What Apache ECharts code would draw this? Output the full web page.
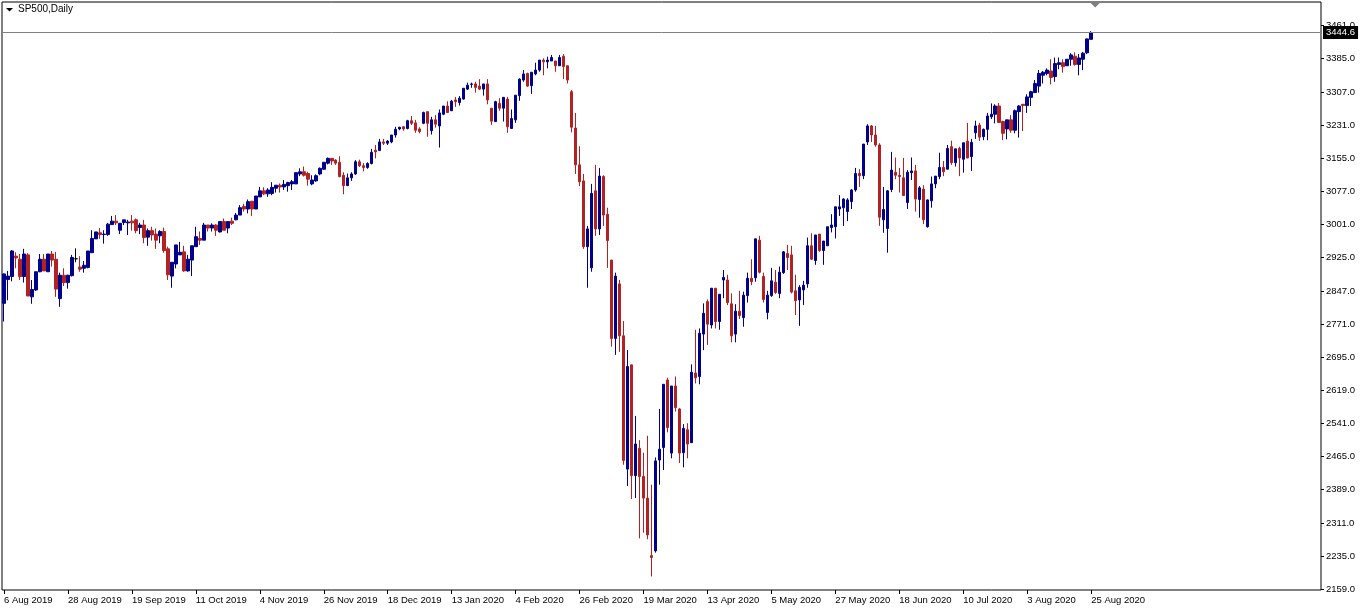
<!DOCTYPE html>
<html>
<head>
<meta charset="utf-8">
<script src="https://cdn.jsdelivr.net/npm/echarts@6/dist/echarts.min.js"></script>
<style>
html,body{margin:0;padding:0;background:#fff;}
#chart{width:1362px;height:611px;}
</style>
</head>
<body>
<div id="chart"></div>
<script>
// ---------------- DATA ----------------
const symbolTitle = 'SP500,Daily';
const lastPrice = 3444.6;
const firstDate = '2019-08-06';
const holidays = ['2019-12-25', '2020-01-01', '2020-04-10'];
const labelEvery = 16;
const emptySlotsAfterData = 57;

const yTickValues = [2159, 2235, 2311, 2389, 2465, 2541, 2619, 2695, 2771, 2847, 2925, 3001, 3077, 3155, 3231, 3307, 3385, 3461];

const open = [
2819,2874,2881,2928,2921,2881,2931,2834,2850,2892,
2921,2892,2933,2921,2830,2884,2867,2883,2922,2903,
2900,2902,2936,2968,2982,2978,2978,3001,3009,2988,
3006,3005,3009,3012,2994,3000,2972,2987,2979,2975,
2985,2945,2882,2910,2931,2938,2894,2919,2950,2969,
2965,3000,2993,3000,2984,3008,2993,3009,3012,3023,
3043,3037,3055,3037,3065,3079,3072,3073,3085,3092,
3088,3091,3095,3095,3118,3123,3119,3095,3102,3118,
3129,3143,3154,3150,3145,3115,3091,3109,3118,3146,
3137,3133,3142,3173,3172,3192,3189,3192,3208,3222,
3227,3223,3241,3236,3222,3235,3262,3218,3243,3229,
3256,3275,3264,3289,3283,3291,3314,3325,3326,3321,
3314,3326,3270,3239,3281,3270,3291,3223,3243,3299,
3335,3350,3322,3349,3358,3381,3377,3379,3379,3368,
3390,3368,3308,3224,3139,3102,2950,2901,3079,2991,
3112,3025,2919,2738,2864,2744,2436,2677,2421,2484,
2419,2369,2236,2247,2457,2486,2642,2473,2628,2575,
2474,2527,2497,2658,2650,2748,2823,2769,2854,2777,
2873,2873,2818,2748,2801,2786,2837,2877,2878,2965,
2881,2798,2837,2868,2842,2890,2934,2931,2848,2827,
2850,2864,2952,2918,2979,2941,2952,2994,2996,3037,
3040,3031,3054,3081,3119,3114,3192,3229,3208,3185,
3012,2992,3082,3122,3115,3109,3052,3121,3125,3059,
3083,2996,3056,3095,3112,3133,3129,3181,3144,3177,
3152,3194,3158,3213,3231,3204,3221,3250,3256,3275,
3239,3222,3243,3219,3262,3279,3276,3295,3306,3321,
3346,3350,3356,3343,3371,3375,3368,3383,3390,3371,
3383,3398,3429
];
const high = [
2888,2894,2942,2937,2933,2945,2935,2873,2892,2933,
2933,2933,2940,2938,2890,2900,2885,2931,2946,2928,
2917,2940,2988,2984,2993,2988,3005,3021,3023,3004,
3012,3012,3023,3015,3005,3012,2992,2996,2992,2988,
2994,2950,2914,2954,2961,2952,2931,2952,2996,2985,
3005,3000,3004,3002,3008,3015,3008,3017,3028,3046,
3049,3059,3055,3067,3088,3087,3085,3099,3092,3096,
3104,3100,3104,3121,3131,3135,3123,3115,3117,3133,
3145,3156,3154,3152,3159,3122,3119,3122,3150,3151,
3143,3145,3176,3185,3199,3199,3196,3208,3227,3227,
3229,3243,3252,3243,3226,3262,3262,3250,3254,3267,
3275,3286,3289,3296,3298,3316,3329,3329,3331,3337,
3326,3337,3270,3287,3293,3295,3296,3267,3300,3339,
3358,3352,3353,3375,3381,3385,3389,3393,3379,3393,
3395,3368,3312,3259,3182,3118,2998,3095,3139,3132,
3115,3040,2919,2890,2873,2778,2711,2677,2559,2503,
2474,2513,2400,2463,2575,2632,2647,2628,2650,2577,
2540,2542,2678,2758,2761,2819,2828,2854,2854,2840,
2896,2885,2842,2817,2848,2846,2890,2921,2968,2975,
2890,2848,2901,2896,2904,2940,2954,2952,2885,2861,
2871,2971,2981,2977,2979,2963,2996,3025,3042,3069,
3062,3062,3083,3132,3129,3187,3233,3231,3229,3189,
3088,3081,3169,3156,3132,3155,3127,3156,3139,3090,
3092,3059,3112,3113,3167,3148,3185,3195,3176,3181,
3190,3236,3199,3241,3236,3223,3259,3281,3279,3282,
3241,3243,3254,3267,3277,3279,3302,3310,3335,3358,
3356,3362,3383,3387,3387,3383,3383,3397,3399,3395,
3400,3431,3448
];
const low = [
2777,2826,2870,2900,2873,2867,2836,2818,2848,2891,
2894,2892,2904,2834,2811,2859,2853,2881,2914,2892,
2890,2900,2936,2968,2968,2957,2975,3000,3000,2979,
3000,2977,2987,2981,2979,2958,2952,2964,2945,2958,
2936,2873,2855,2900,2931,2892,2892,2882,2950,2954,
2965,2985,2985,2975,2983,2988,2981,3000,3011,3023,
3031,3027,3021,3037,3065,3069,3065,3069,3075,3075,
3081,3077,3081,3095,3113,3112,3091,3092,3100,3115,
3127,3140,3139,3139,3110,3071,3090,3102,3116,3134,
3124,3130,3140,3154,3171,3185,3185,3189,3202,3219,
3218,3221,3231,3213,3212,3233,3204,3209,3225,3179,
3254,3259,3264,3273,3276,3290,3312,3317,3306,3312,
3299,3279,3231,3239,3264,3239,3213,3223,3236,3287,
3331,3319,3303,3346,3354,3346,3362,3379,3354,3368,
3337,3327,3214,3118,3090,2945,2855,2892,2975,2977,
2998,2901,2719,2700,2707,2446,2397,2367,2369,2276,
2289,2274,2188,2243,2400,2434,2521,2461,2569,2450,
2440,2461,2497,2634,2632,2711,2723,2761,2761,2758,
2831,2815,2729,2729,2783,2765,2821,2861,2869,2888,
2821,2782,2834,2841,2831,2887,2896,2842,2792,2767,
2815,2855,2919,2908,2938,2908,2952,2983,2969,3021,
2998,3009,3037,3077,3088,3106,3185,3192,3181,2998,
2982,2936,3076,3106,3075,3067,3037,3104,3031,3017,
3002,2994,3040,3085,3106,3113,3129,3139,3135,3113,
3121,3154,3125,3199,3194,3196,3196,3245,3235,3237,
3196,3198,3213,3212,3202,3217,3259,3275,3305,3306,
3327,3346,3325,3331,3360,3352,3368,3368,3368,3346,
3358,3395,3429
];
const close = [
2887,2882,2940,2924,2881,2933,2836,2851,2892,2921,
2894,2933,2919,2852,2884,2867,2884,2925,2922,2898,
2907,2940,2969,2984,2978,2979,3002,3009,3005,3004,
3012,3007,3005,2987,3000,2971,2987,2977,2965,2985,
2941,2885,2914,2954,2937,2894,2921,2952,2973,2965,
3000,2993,3000,2988,3008,2988,3008,3004,3023,3040,
3037,3054,3037,3067,3079,3072,3081,3087,3092,3088,
3094,3098,3100,3121,3123,3115,3106,3104,3114,3131,
3145,3154,3148,3143,3112,3091,3109,3118,3146,3137,
3133,3142,3168,3169,3192,3189,3194,3208,3221,3226,
3222,3241,3235,3219,3216,3260,3235,3243,3233,3259,
3275,3260,3286,3285,3293,3316,3323,3326,3318,3314,
3326,3289,3240,3285,3270,3295,3227,3246,3300,3337,
3349,3321,3353,3358,3381,3377,3381,3387,3368,3387,
3366,3335,3226,3139,3100,2950,2991,3073,2991,3113,
3023,2964,2738,2882,2744,2456,2673,2421,2494,2419,
2369,2284,2232,2455,2482,2632,2532,2628,2578,2473,
2530,2494,2660,2647,2750,2796,2771,2854,2777,2840,
2879,2821,2744,2801,2791,2838,2877,2869,2968,2891,
2828,2838,2871,2844,2891,2938,2925,2845,2825,2856,
2861,2952,2921,2977,2941,2963,2996,3000,3042,3042,
3060,3058,3081,3119,3114,3187,3229,3208,3185,3018,
3036,3079,3127,3115,3112,3068,3122,3125,3060,3086,
3012,3058,3095,3113,3133,3123,3177,3144,3176,3155,
3190,3155,3191,3229,3203,3221,3252,3256,3275,3237,
3212,3243,3219,3264,3275,3276,3296,3308,3327,3350,
3353,3358,3341,3373,3375,3366,3383,3393,3371,3386,
3397,3430,3444.6
];

// ---------------- CATEGORIES (trading calendar) ----------------
const MONTHS = ['Jan','Feb','Mar','Apr','May','Jun','Jul','Aug','Sep','Oct','Nov','Dec'];
function buildDates(startISO, count) {
  const out = [];
  const d = new Date(startISO + 'T00:00:00Z');
  while (out.length < count) {
    const wd = d.getUTCDay();
    const iso = d.toISOString().slice(0, 10);
    if (wd !== 0 && wd !== 6 && holidays.indexOf(iso) < 0) {
      out.push(d.getUTCDate() + ' ' + MONTHS[d.getUTCMonth()] + ' ' + d.getUTCFullYear());
    }
    d.setUTCDate(d.getUTCDate() + 1);
  }
  return out;
}
const dates = buildDates(firstDate, close.length);
const categories = dates.concat(new Array(emptySlotsAfterData).fill(''));
const ohlc = close.map((c, i) => [open[i], c, low[i], high[i]]);

// ---------------- STYLE ----------------
const UP = '#00008B';
const DOWN = '#B22222';
const FONT = 'Liberation Sans';
const showLabel = (idx) => idx % labelEvery === 0 && idx < dates.length;

const chart = echarts.init(document.getElementById('chart'), null, {renderer: 'canvas'});
chart.setOption({
  animation: false,
  backgroundColor: '#ffffff',
  grid: {left: 2, right: 41, top: 2, bottom: 21, show: true, borderColor: '#000', borderWidth: 1, backgroundColor: 'transparent'},
  xAxis: {
    type: 'category',
    data: categories,
    boundaryGap: true,
    axisLine: {show: false},
    axisTick: {show: true, alignWithLabel: true, interval: showLabel, length: 4, lineStyle: {color: '#000'}},
    axisLabel: {interval: showLabel, align: 'left', margin: 5, fontFamily: FONT, fontSize: 9.5, color: '#000', hideOverlap: false},
    splitLine: {show: false}
  },
  yAxis: {
    type: 'value',
    position: 'right',
    min: 2156.7,
    max: 3515.3,
    axisLine: {show: false},
    axisTick: {show: true, length: 3, customValues: yTickValues, lineStyle: {color: '#000'}},
    axisLabel: {customValues: yTickValues, formatter: (v) => Number(v).toFixed(1), margin: 5, fontFamily: FONT, fontSize: 9.5, color: '#000'},
    splitLine: {show: false}
  },
  series: [{
    type: 'candlestick',
    data: ohlc,
    barWidth: 3,
    itemStyle: {color: UP, color0: DOWN, borderColor: UP, borderColor0: DOWN, borderColorDoji: '#000', borderWidth: 1},
    markLine: {
      silent: true,
      symbol: ['none', 'none'],
      lineStyle: {color: '#808080', width: 1, type: 'solid'},
      label: {show: true, position: 'end', formatter: lastPrice.toFixed(1), color: '#fff', backgroundColor: '#000', padding: [2, 3, 1, 3], fontFamily: FONT, fontSize: 9.5, distance: 2},
      data: [{yAxis: lastPrice}]
    }
  }]
});

// decorations: title & chart-shift marker
const shiftX = chart.convertToPixel({xAxisIndex: 0}, dates.length);
chart.setOption({
  graphic: [
    {type: 'polygon', shape: {points: [[6, 8], [13, 8], [9.5, 11.5]]}, style: {fill: '#000'}, silent: true},
    {type: 'text', x: 18, y: 4, style: {text: symbolTitle, font: '10px "' + FONT + '"', fill: '#000'}, silent: true},
    {type: 'polygon', shape: {points: [[shiftX - 4.5, 3], [shiftX + 4.5, 3], [shiftX, 7.5]]}, style: {fill: '#808080'}, silent: true}
  ]
});
</script>
</body>
</html>
